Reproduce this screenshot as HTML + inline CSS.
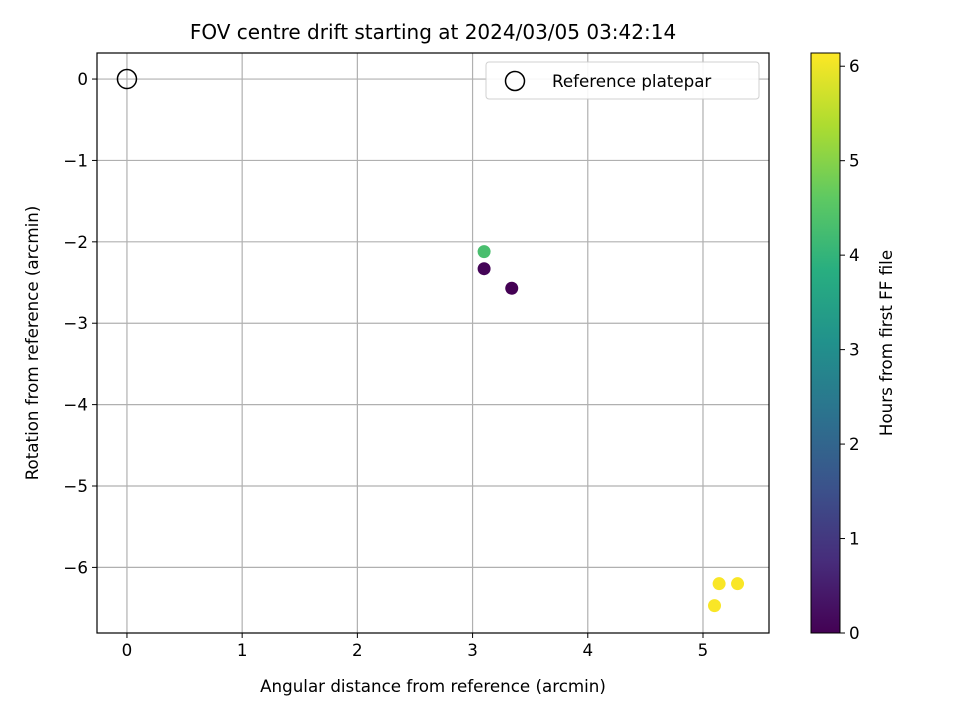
<!DOCTYPE html>
<html><head><meta charset="utf-8"><style>
body{margin:0;background:#fff;}
svg text{font-family:"DejaVu Sans","Liberation Sans",sans-serif;fill:#000;}
</style></head><body>
<svg id="chart" width="960" height="720" viewBox="0 0 960 720">
<defs>
<linearGradient id="viridis" x1="0" y1="1" x2="0" y2="0">
<stop offset="0" stop-color="#440154"/><stop offset="0.125" stop-color="#472d7b"/><stop offset="0.25" stop-color="#3b528b"/><stop offset="0.375" stop-color="#2c728e"/><stop offset="0.5" stop-color="#21918c"/><stop offset="0.625" stop-color="#28ae80"/><stop offset="0.75" stop-color="#5ec962"/><stop offset="0.875" stop-color="#addc30"/><stop offset="1" stop-color="#fde725"/>
</linearGradient>
</defs>
<text x="433" y="39" font-size="20" text-anchor="middle">FOV centre drift starting at 2024/03/05 03:42:14</text>
<g id="grid"></g>
<g id="ticks"></g>
<g id="points"></g>
<rect x="97" y="53" width="672" height="580" fill="none" stroke="#000" stroke-width="1.2"/>
<text x="433" y="692" font-size="16.7" text-anchor="middle">Angular distance from reference (arcmin)</text>
<text transform="translate(38,343) rotate(-90)" font-size="16.7" text-anchor="middle">Rotation from reference (arcmin)</text>
<g>
<rect x="486" y="62" width="273" height="37" rx="3" fill="#fff" stroke="#ccc" opacity="0.9"/>
<circle cx="515" cy="81" r="9.5" fill="none" stroke="#000" stroke-width="1.5"/>
<text x="552" y="87" font-size="16.7">Reference platepar</text>
</g>
<rect x="811" y="53" width="29" height="580" fill="url(#viridis)" stroke="#000" stroke-width="1"/>
<g id="cbticks"></g>
<text transform="translate(892,343) rotate(-90)" font-size="16.7" text-anchor="middle">Hours from first FF file</text>
</svg>
<script>
const xs=[3.10,3.10,3.34,5.14,5.30,5.10];
const ys=[-2.12,-2.33,-2.57,-6.20,-6.20,-6.47];
const hours=[4.3,0.05,0.0,6.1,6.1,6.1];
const xTicks=[0,1,2,3,4,5];
const yTicks=[0,-1,-2,-3,-4,-5,-6];
const cbTicks=[0,1,2,3,4,5,6];
const refPoint=[0,0];
const X0=97,X1=769,Y0=53,Y1=633,xmin=-0.26,xmax=5.573,ymin=-6.806,ymax=0.32,hmax=6.14;
const sx=v=>X0+(v-xmin)/(xmax-xmin)*(X1-X0);
const sy=v=>Y1-(v-ymin)/(ymax-ymin)*(Y1-Y0);
const sh=v=>633-v/hmax*580;
const NS="http://www.w3.org/2000/svg";
function mk(t,a,p){const e=document.createElementNS(NS,t);for(const k in a)e.setAttribute(k,a[k]);p.appendChild(e);return e;}
const vir=["#440154","#472d7b","#3b528b","#2c728e","#21918c","#28ae80","#5ec962","#addc30","#fde725"];
function hex(h){return [1,3,5].map(i=>parseInt(h.substr(i,2),16));}
function cmap(v){let t=Math.max(0,Math.min(1,v/hmax))*8;let i=Math.min(7,Math.floor(t)),f=t-i;const a=hex(vir[i]),b=hex(vir[i+1]);return "rgb("+a.map((c,k)=>Math.round(c+(b[k]-c)*f)).join(",")+")";}
const grid=document.getElementById('grid'),ticks=document.getElementById('ticks'),pts=document.getElementById('points'),cb=document.getElementById('cbticks');
const fmt=v=>v<0?"\u2212"+(-v):""+v;
xTicks.forEach(v=>{const x=sx(v);
const g=mk('line',{x1:x,x2:x,y1:Y0,y2:Y1,stroke:'#b0b0b0','stroke-width':1.2},grid);

mk('line',{x1:x,x2:x,y1:Y1,y2:Y1+5,stroke:'#000'},ticks);
const t=mk('text',{x:x,y:Y1+23,'font-size':16.7,'text-anchor':'middle'},ticks);t.textContent=fmt(v);
});
yTicks.forEach(v=>{const y=sy(v);
const g=mk('line',{x1:X0,x2:X1,y1:y,y2:y,stroke:'#b0b0b0','stroke-width':1.2},grid);

mk('line',{x1:X0-5,x2:X0,y1:y,y2:y,stroke:'#000'},ticks);
const t=mk('text',{x:X0-9,y:y+6,'font-size':16.7,'text-anchor':'end'},ticks);t.textContent=fmt(v);
});
const r=mk('circle',{cx:sx(refPoint[0]),cy:sy(refPoint[1]),r:9.5,fill:'none',stroke:'#000','stroke-width':1.5},pts);

xs.forEach((v,i)=>{const c=mk('circle',{cx:sx(v),cy:sy(ys[i]),r:6.5,fill:cmap(hours[i])},pts);
});
cbTicks.forEach(v=>{const y=sh(v);
mk('line',{x1:840,x2:845,y1:y,y2:y,stroke:'#000'},cb);
const t=mk('text',{x:849,y:y+6,'font-size':16.7},cb);t.textContent=v;
});
</script>
</body></html>
